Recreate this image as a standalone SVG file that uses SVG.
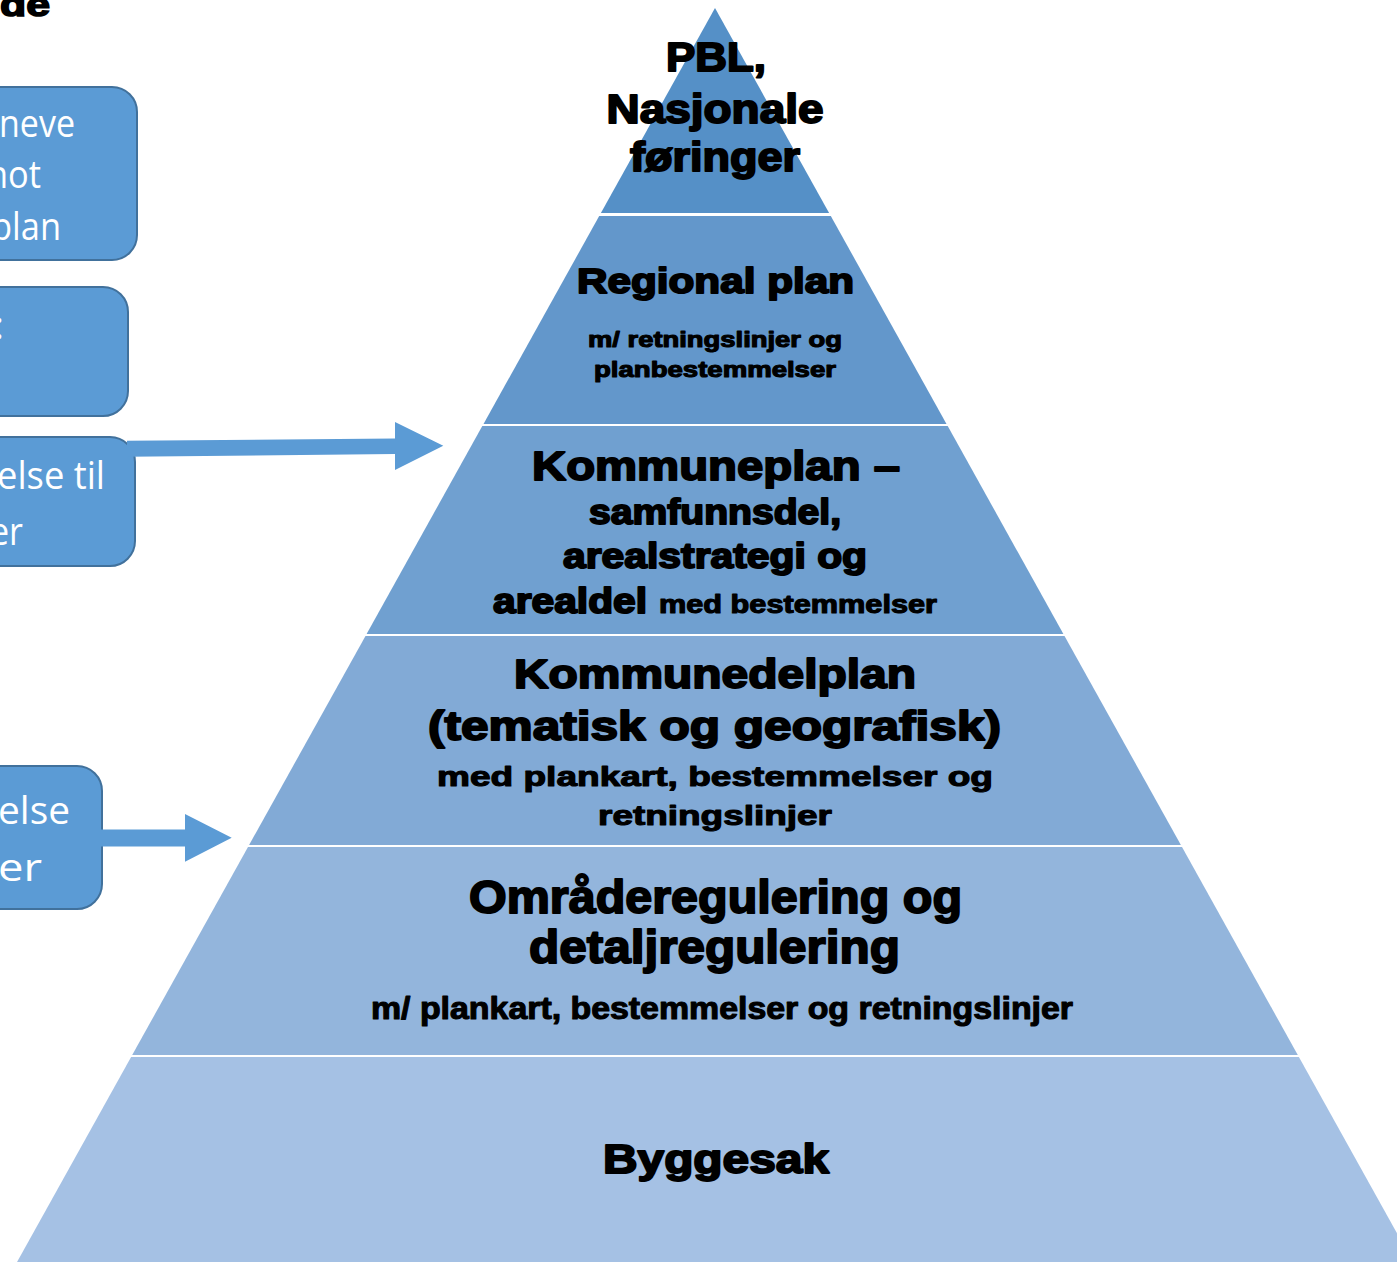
<svg xmlns="http://www.w3.org/2000/svg" width="1397" height="1262" viewBox="0 0 1397 1262">
<style>
.band{stroke:none}
.pt{font-family:"Liberation Sans",Arial,sans-serif;font-weight:bold;fill:#000;stroke:#000;stroke-width:1.9;stroke-linejoin:round;text-anchor:middle}
.pts{font-family:"Liberation Sans",Arial,sans-serif;font-weight:bold;fill:#000;stroke:#000;stroke-width:1.1;stroke-linejoin:round;text-anchor:middle}
.box{fill:#5B9BD5;stroke:#41719C;stroke-width:2}
.bt{font-family:"Open Sans","Liberation Sans",sans-serif;font-size:38px;fill:#FFFFFF}
.arr{fill:#5B9BD5;stroke:none}
</style>
<rect width="1397" height="1262" fill="#FFFFFF"/>
<text id="heading" x="50" y="16" text-anchor="end" font-family="Liberation Sans,Arial,sans-serif" font-weight="bold" font-size="34" stroke="#000" stroke-width="1.6" textLength="50" lengthAdjust="spacingAndGlyphs">de</text>

<g id="pyramid">
<g id="level1">
<polygon class="band" fill="#5590C7" points="715,8 829.1,213 600.9,213"/>
<text class="pt" x="716" y="71" font-size="40" textLength="100" lengthAdjust="spacingAndGlyphs">PBL,</text>
<text class="pt" x="715" y="123" font-size="40" textLength="217" lengthAdjust="spacingAndGlyphs">Nasjonale</text>
<text class="pt" x="715" y="171" font-size="40" textLength="170" lengthAdjust="spacingAndGlyphs">føringer</text>
</g>
<g id="level2">
<polygon class="band" fill="#6397CB" points="599.2,216 830.8,216 946.5,424 483.5,424"/>
<text class="pt" x="715.5" y="293" font-size="35" textLength="277" lengthAdjust="spacingAndGlyphs">Regional plan</text>
<text class="pts" x="715" y="347" font-size="22" textLength="254" lengthAdjust="spacingAndGlyphs">m/ retningslinjer og</text>
<text class="pts" x="715" y="377" font-size="22" textLength="242" lengthAdjust="spacingAndGlyphs">planbestemmelser</text>
</g>
<g id="level3">
<polygon class="band" fill="#70A0D0" points="482.3,426 947.7,426 1063.4,634 366.6,634"/>
<text class="pt" x="716" y="480" font-size="41" textLength="368" lengthAdjust="spacingAndGlyphs">Kommuneplan –</text>
<text class="pt" x="715" y="524" font-size="35" textLength="252" lengthAdjust="spacingAndGlyphs">samfunnsdel,</text>
<text class="pt" x="715" y="568" font-size="35" textLength="304" lengthAdjust="spacingAndGlyphs">arealstrategi og</text>
<text class="pt" x="493" y="613" font-size="35" style="text-anchor:start" textLength="154" lengthAdjust="spacingAndGlyphs">arealdel</text>
<text class="pts" x="659" y="613" font-size="25" style="text-anchor:start" textLength="278" lengthAdjust="spacingAndGlyphs">med bestemmelser</text>
</g>
<g id="level4">
<polygon class="band" fill="#82AAD6" points="365.5,636 1064.5,636 1180.9,845 249.1,845"/>
<text class="pt" x="715" y="688" font-size="40" textLength="402" lengthAdjust="spacingAndGlyphs">Kommunedelplan</text>
<text class="pt" x="714.5" y="740" font-size="40" textLength="573" lengthAdjust="spacingAndGlyphs">(tematisk og geografisk)</text>
<text class="pts" x="715" y="786" font-size="28" textLength="556" lengthAdjust="spacingAndGlyphs">med plankart, bestemmelser og</text>
<text class="pts" x="715" y="825" font-size="28" textLength="234" lengthAdjust="spacingAndGlyphs">retningslinjer</text>
</g>
<g id="level5">
<polygon class="band" fill="#93B5DC" points="248,847 1182,847 1297.8,1055 132.2,1055"/>
<text class="pt" x="715.5" y="913" font-size="46" textLength="493" lengthAdjust="spacingAndGlyphs">Områderegulering og</text>
<text class="pt" x="714.5" y="963" font-size="46" textLength="371" lengthAdjust="spacingAndGlyphs">detaljregulering</text>
<text class="pts" x="722" y="1019" font-size="31" textLength="702" lengthAdjust="spacingAndGlyphs">m/ plankart, bestemmelser og retningslinjer</text>
</g>
<g id="level6">
<polygon class="band" fill="#A5C1E4" points="131.1,1057 1298.9,1057 1417.4,1270 12.6,1270"/>
<text class="pt" x="716" y="1173" font-size="40" textLength="226" lengthAdjust="spacingAndGlyphs">Byggesak</text>
</g>
</g>

<g id="box1">
<rect class="box" x="-40" y="87" width="177" height="173" rx="25"/>
<text class="bt" x="-1" y="137" textLength="76" lengthAdjust="spacingAndGlyphs">neve</text>
<text class="bt" x="-13" y="188" textLength="54" lengthAdjust="spacingAndGlyphs">not</text>
<text class="bt" x="-9" y="240" textLength="70" lengthAdjust="spacingAndGlyphs">plan</text>
</g>
<g id="box2">
<rect class="box" x="-40" y="287" width="168" height="129" rx="25"/>
<text class="bt" x="4" y="339" text-anchor="end">:</text>
</g>
<g id="box3">
<rect class="box" x="-40" y="437" width="175" height="129" rx="25"/>
<text class="bt" x="105" y="489" text-anchor="end" textLength="108" lengthAdjust="spacingAndGlyphs">else til</text>
<text class="bt" x="23" y="545" text-anchor="end" textLength="33" lengthAdjust="spacingAndGlyphs">er</text>
</g>
<g id="box4">
<rect class="box" x="-40" y="766" width="142" height="143" rx="25"/>
<text class="bt" x="70" y="824" text-anchor="end" textLength="72" lengthAdjust="spacingAndGlyphs">else</text>
<text class="bt" x="42" y="881" text-anchor="end" textLength="44" lengthAdjust="spacingAndGlyphs">er</text>
</g>

<g id="connectors">
<polygon class="arr" points="127,440.7 395,438.5 395,422 443.3,445.7 395,470 395,454 127,456.7"/>
<polygon class="arr" points="101,829.5 185,829.5 185,814 231.7,837.7 185,861.7 185,846.5 101,846.5"/>
</g>
</svg>
